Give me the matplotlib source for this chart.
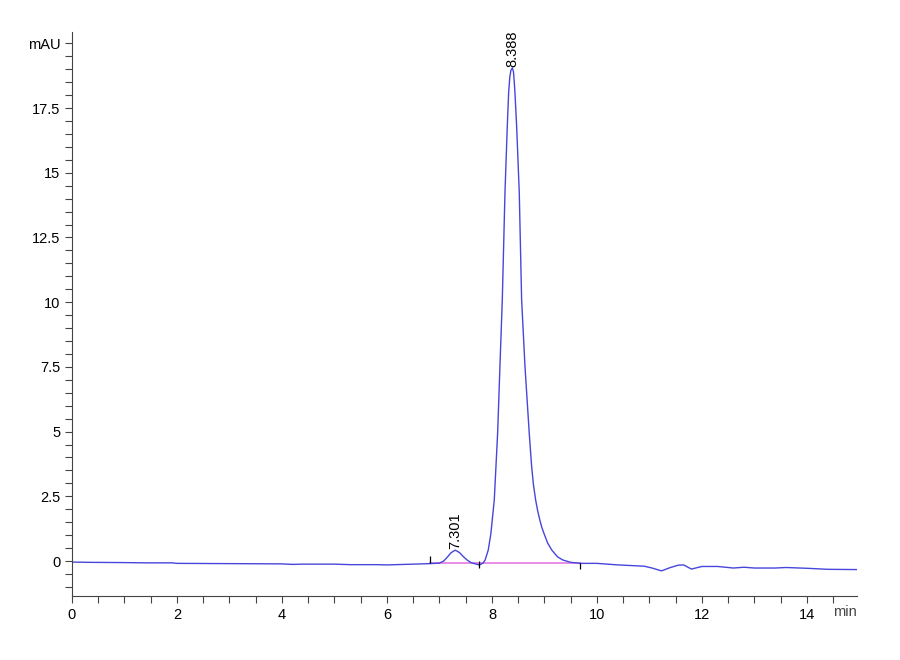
import matplotlib.pyplot as plt
from matplotlib.ticker import MultipleLocator

plt.rcParams['font.family'] = ['Liberation Sans', 'DejaVu Sans']

# retention time (min) and signal (mAU)
time = [0.0, 0.3, 1.0, 1.4, 1.9, 2.0, 3.0, 4.0, 4.2, 4.4, 5.0, 5.3, 5.8, 6.0, 6.5,
        6.82, 7.0, 7.08, 7.15, 7.22, 7.30, 7.38, 7.45, 7.52, 7.6, 7.7,
        7.76, 7.83, 7.87, 7.93, 7.98, 8.044, 8.076, 8.108, 8.152, 8.197, 8.248,
        8.292, 8.318, 8.34, 8.36, 8.388, 8.41, 8.425, 8.438, 8.47, 8.52, 8.565,
        8.629, 8.71, 8.756, 8.79, 8.832, 8.87, 8.91, 8.95, 8.99, 9.06, 9.137,
        9.25, 9.35, 9.5, 9.7,
        10.0, 10.4, 10.9, 11.05, 11.23, 11.4, 11.55, 11.65, 11.8, 12.0, 12.3,
        12.6, 12.8, 13.0, 13.4, 13.6, 14.0, 14.4, 14.95]
signal = [-0.04, -0.05, -0.06, -0.07, -0.07, -0.09, -0.10, -0.11, -0.13, -0.12, -0.12, -0.14, -0.14, -0.15, -0.12,
          -0.10, -0.08, 0.0, 0.15, 0.32, 0.42, 0.33, 0.18, 0.05, -0.06, -0.12,
          -0.15, -0.08, 0.04, 0.43, 1.07, 2.36, 3.65, 4.94, 7.52, 10.1, 14.24,
          16.8, 18.1, 18.7, 18.95, 19.05, 18.9, 18.5, 18.1, 16.8, 14.24, 10.1,
          7.52, 4.94, 3.65, 2.95, 2.36, 1.95, 1.6, 1.3, 1.07, 0.7, 0.43,
          0.16, 0.04, -0.05, -0.09,
          -0.09, -0.15, -0.2, -0.27, -0.38, -0.25, -0.16, -0.15, -0.31, -0.21, -0.21,
          -0.27, -0.24, -0.27, -0.27, -0.25, -0.28, -0.32, -0.33]

# integration baseline and peak labels
base_t = [6.82, 9.68]
base_y = [-0.09, -0.09]
peak_t = [7.301, 8.388]
peak_y = [0.42, 19.05]
peak_labels = ['7.301', '8.388']

fig = plt.figure(figsize=(9, 6.6), dpi=100)
ax = fig.add_axes([0.08, 0.097, 0.872, 0.855])

ax.plot(base_t, base_y, color='#e47ae4', lw=1.2)
ax.plot(time, signal, color='#4646dc', lw=1.0)

# baseline event marks
ax.vlines(6.82, -0.09, 0.2, color='black', lw=0.9)
ax.vlines(7.76, -0.25, 0.0, color='black', lw=0.9)
ax.vlines(9.68, -0.3, -0.09, color='black', lw=0.9)

for t, y, s in zip(peak_t, peak_y, peak_labels):
    ax.annotate(s, (t, y), xytext=(0, 1), textcoords='offset points',
                rotation=90, ha='center', va='bottom', fontsize=10.5)

ax.set_xlim(0, 14.95)
ax.set_ylim(-1.35, 20.45)

ax.xaxis.set_minor_locator(MultipleLocator(0.5))
ax.yaxis.set_minor_locator(MultipleLocator(0.5))
ax.set_xticks(range(0, 15, 2))
ax.set_yticks([0, 2.5, 5, 7.5, 10, 12.5, 15, 17.5, 20])
ax.set_yticklabels(['0', '2.5', '5', '7.5', '10', '12.5', '15', '17.5', 'mAU'])

ax.tick_params(which='both', direction='out', length=5, width=0.8, labelsize=10.5, color='#444444')
ax.spines['top'].set_visible(False)
ax.spines['right'].set_visible(False)
ax.spines['left'].set_color('#444444')
ax.spines['bottom'].set_color('#444444')

ax.text(1.0, -0.016, 'min', transform=ax.transAxes, ha='right', va='top',
        fontsize=10.5, color='#444444')

fig.savefig('out.png', dpi=100)
